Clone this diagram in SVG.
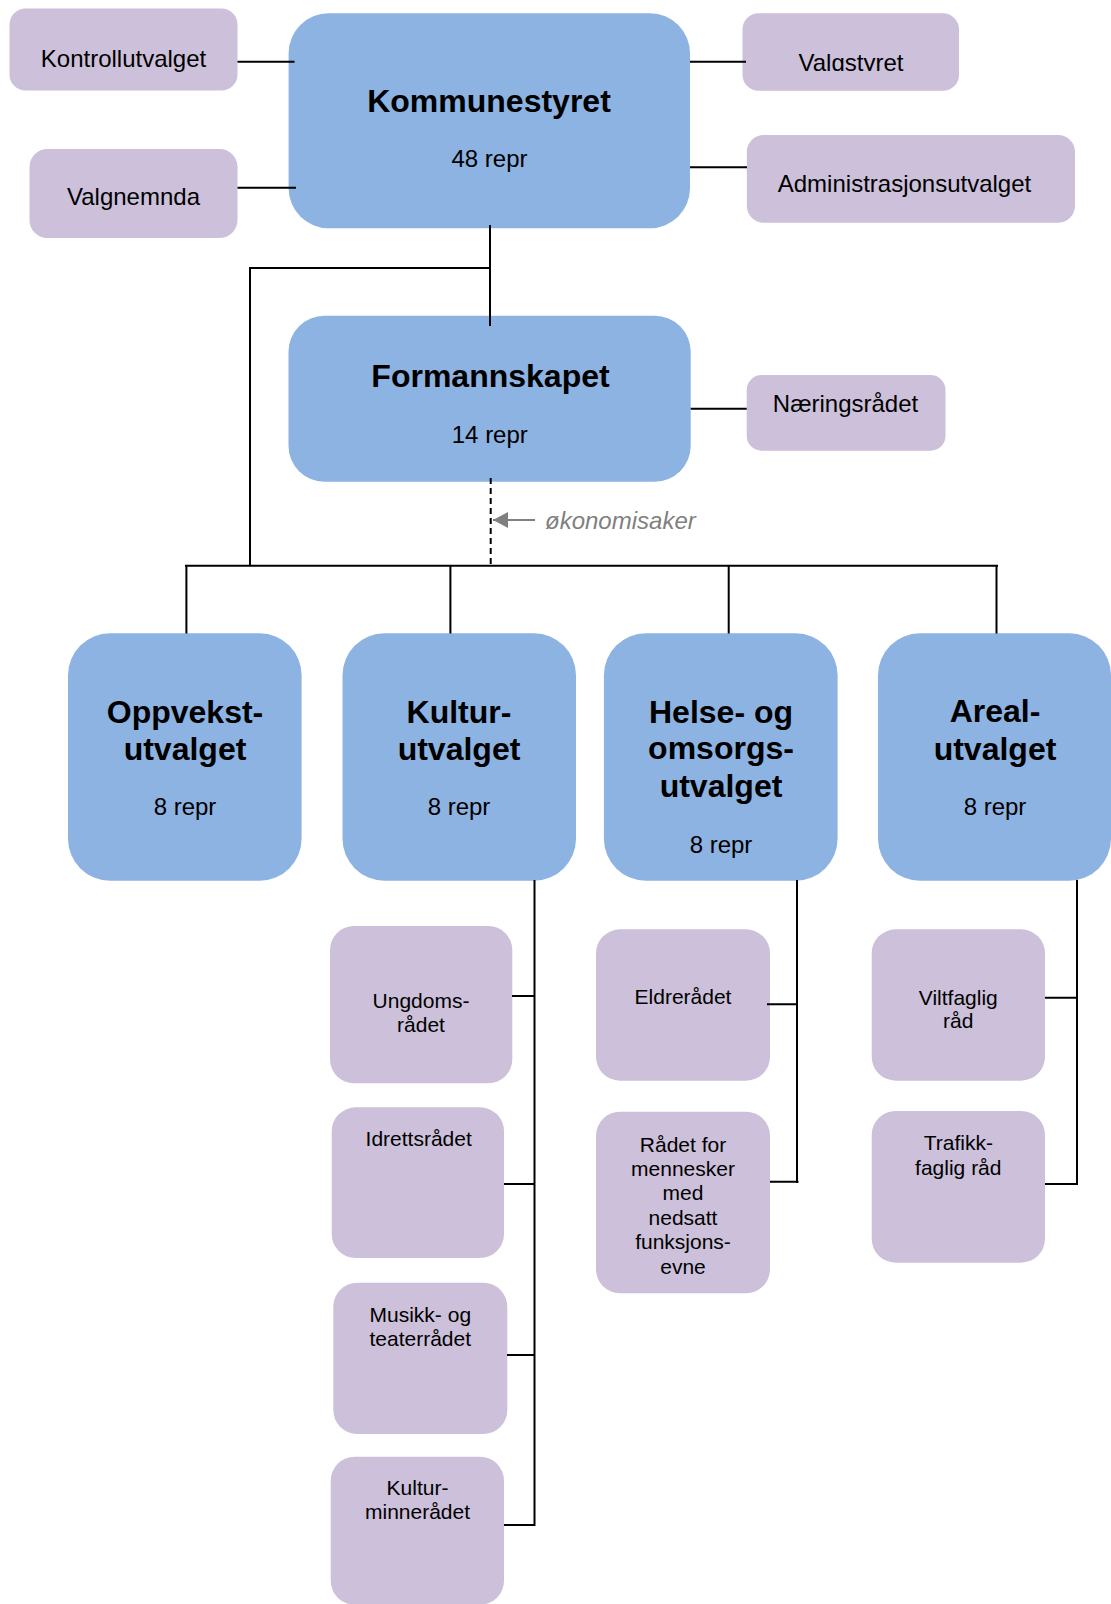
<svg xmlns="http://www.w3.org/2000/svg" width="1111" height="1604" viewBox="0 0 1111 1604">
<style>
.blue{fill:#8DB3E2}
.purple{fill:#CCC0DA}
.t{font-family:"Liberation Sans",Arial,sans-serif;fill:#000;text-anchor:middle}
.h{font-size:32px;font-weight:bold}
.m{font-size:24px}
.s{font-size:21px}
.ln{stroke:#000;stroke-width:2;fill:none}
</style>
<defs>
<marker id="ah" markerWidth="16" markerHeight="16" refX="15" refY="8" orient="auto" markerUnits="userSpaceOnUse">
<path d="M0,0 L15,8 L0,16 Z" fill="#808080"/>
</marker>
<clipPath id="clipValg"><rect x="742" y="13" width="218" height="58"/></clipPath>
</defs>
<rect width="1111" height="1604" fill="#fff"/>

<g id="kontrollutvalget"><rect class="purple" x="9.5" y="8.5" width="228" height="82" rx="16"/><text class="t m" x="123.5" y="66.7">Kontrollutvalget</text></g>
<g id="valgnemnda"><rect class="purple" x="29.5" y="149" width="208" height="89" rx="18"/><text class="t m" x="133.5" y="205">Valgnemnda</text></g>
<g id="kommunestyret"><rect class="blue" x="288.6" y="13.3" width="401.4" height="215" rx="40"/><text class="t h" x="489" y="111.7">Kommunestyret</text><text class="t m" x="489.5" y="166.7">48 repr</text></g>
<g id="valgstyret"><rect class="purple" x="742.5" y="13.3" width="216.5" height="77.4" rx="16"/><text class="t m" x="851" y="70.5" clip-path="url(#clipValg)">Valgstyret</text></g>
<g id="administrasjonsutvalget"><rect class="purple" x="746.8" y="135" width="328.2" height="87.7" rx="17"/><text class="t m" x="904.5" y="191.7">Administrasjonsutvalget</text></g>
<g id="formannskapet"><rect class="blue" x="288.5" y="315.7" width="402.2" height="166" rx="36"/><text class="t h" x="490.5" y="386.7">Formannskapet</text><text class="t m" x="489.8" y="443.3">14 repr</text></g>
<g id="naeringsradet"><rect class="purple" x="746.7" y="375" width="198.8" height="75.7" rx="15"/><text class="t m" x="845.5" y="411.7">Næringsrådet</text></g>

<g id="oppvekstutvalget"><rect class="blue" x="68" y="633.3" width="233.6" height="247.5" rx="42"/><text class="t h" x="185" y="722.7">Oppvekst-</text><text class="t h" x="185" y="760">utvalget</text><text class="t m" x="185" y="815">8 repr</text></g>
<g id="kulturutvalget"><rect class="blue" x="342.5" y="633.3" width="233.5" height="247.5" rx="42"/><text class="t h" x="459" y="722.7">Kultur-</text><text class="t h" x="459" y="760">utvalget</text><text class="t m" x="459" y="815">8 repr</text></g>
<g id="helseutvalget"><rect class="blue" x="603.9" y="633.3" width="233.7" height="247.5" rx="42"/><text class="t h" x="721" y="722.7">Helse- og</text><text class="t h" x="721" y="759.3">omsorgs-</text><text class="t h" x="721" y="796.7">utvalget</text><text class="t m" x="721" y="853.3">8 repr</text></g>
<g id="arealutvalget"><rect class="blue" x="878" y="633.3" width="233" height="247.5" rx="42"/><text class="t h" x="995" y="722.3">Areal-</text><text class="t h" x="995" y="760">utvalget</text><text class="t m" x="995" y="815">8 repr</text></g>

<g id="ungdomsradet"><rect class="purple" x="330" y="926" width="182.3" height="157.3" rx="24"/><text class="t s" x="421" y="1008.3">Ungdoms-</text><text class="t s" x="421" y="1031.7">rådet</text></g>
<g id="idrettsradet"><rect class="purple" x="331.7" y="1107.3" width="172.3" height="150.7" rx="24"/><text class="t s" x="418.7" y="1145.7">Idrettsrådet</text></g>
<g id="musikkradet"><rect class="purple" x="333.3" y="1282.7" width="174" height="151.3" rx="24"/><text class="t s" x="420.3" y="1321.7">Musikk- og</text><text class="t s" x="420.3" y="1346">teaterrådet</text></g>
<g id="kulturminneradet"><rect class="purple" x="330.7" y="1456.7" width="173.3" height="148" rx="24"/><text class="t s" x="417.5" y="1495">Kultur-</text><text class="t s" x="417.5" y="1519.3">minnerådet</text></g>
<g id="eldreradet"><rect class="purple" x="596" y="929.3" width="174" height="151.4" rx="24"/><text class="t s" x="683" y="1004">Eldrerådet</text></g>
<g id="funksjonsradet"><rect class="purple" x="596" y="1111.7" width="174" height="181.6" rx="24"/><text class="t s" x="683" y="1151.5">Rådet for</text><text class="t s" x="683" y="1175.9">mennesker</text><text class="t s" x="683" y="1200.3">med</text><text class="t s" x="683" y="1224.7">nedsatt</text><text class="t s" x="683" y="1249.1">funksjons-</text><text class="t s" x="683" y="1273.5">evne</text></g>
<g id="viltfagligrad"><rect class="purple" x="871.7" y="929.3" width="173.3" height="151.4" rx="24"/><text class="t s" x="958.3" y="1005">Viltfaglig</text><text class="t s" x="958.3" y="1028.3">råd</text></g>
<g id="trafikkfagligrad"><rect class="purple" x="871.7" y="1111" width="173.3" height="151.7" rx="24"/><text class="t s" x="958.3" y="1150">Trafikk-</text><text class="t s" x="958.3" y="1175">faglig råd</text></g>

<g id="connectors">
<path class="ln" d="M237.5,61.7H294.5 M237.5,187.7H296 M690,61.7H746 M690,167.3H747 M690.7,408.7H746.7"/>
<path class="ln" d="M490,225V326 M490,268H250V566 M185,565.7H998 M186.4,565.7V633.5 M450.4,565.7V633.5 M728.7,565.7V633.5 M996.5,565.7V633.5"/>
<path class="ln" d="M490.7,478V565" stroke-dasharray="6,4"/>
<path class="ln" d="M534.5,880V1526 M512,996H534.5 M504,1184H534.5 M507,1355H534.5 M504,1525H535.5"/>
<path class="ln" d="M797,880V1183 M767,1004.3H797 M770,1181.7H798.5"/>
<path class="ln" d="M1077,880V1185 M1045,997.7H1077 M1045,1184H1078"/>
<line x1="535" y1="520" x2="493" y2="520" stroke="#808080" stroke-width="2" marker-end="url(#ah)"/>
</g>
<text x="545" y="528.5" style="font-family:'Liberation Sans',Arial,sans-serif;font-size:24px;font-style:italic;fill:#808080">økonomisaker</text>
</svg>
